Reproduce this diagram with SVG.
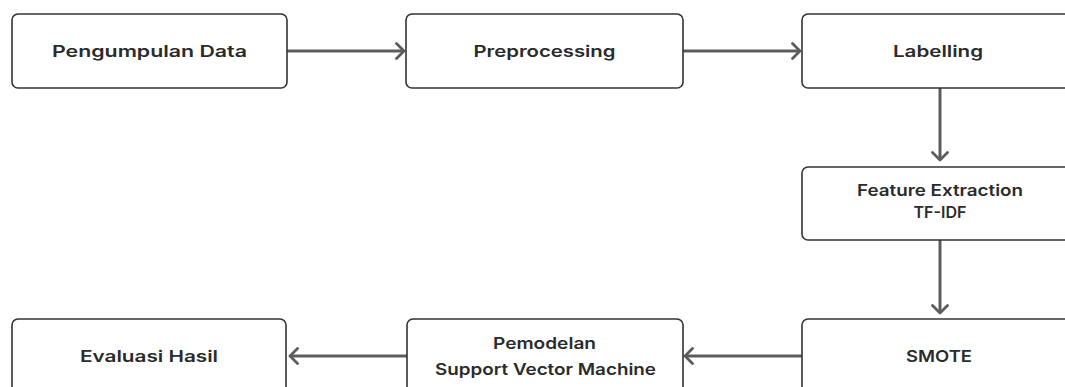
<svg xmlns="http://www.w3.org/2000/svg" width="1065" height="387" viewBox="0 0 1065 387">
  <defs>
    <style>
      .box { fill: #ffffff; stroke: #333333; stroke-width: 1.6; }
      .lbl { font-family: "Inter", "Liberation Sans", sans-serif; font-size: 16px; font-weight: 600; fill: #2b2b2b; text-anchor: middle; }
      .conn { stroke: #5c5c5c; stroke-width: 3; fill: none; }
    </style>
    <marker id="arr" viewBox="0 0 12 18" refX="10" refY="9" markerWidth="12" markerHeight="18" markerUnits="userSpaceOnUse" orient="auto">
      <path d="M2.5,1.5 L10,9 L2.5,16.5" fill="none" stroke="#5c5c5c" stroke-width="2.8" stroke-linecap="round" stroke-linejoin="round"/>
    </marker>
  </defs>
  <rect width="1065" height="387" fill="#ffffff"/>

  <g id="connectors">
    <line class="conn" x1="287" y1="51" x2="404" y2="51" marker-end="url(#arr)"/>
    <line class="conn" x1="683" y1="51" x2="800" y2="51" marker-end="url(#arr)"/>
    <line class="conn" x1="940" y1="88" x2="940" y2="160" marker-end="url(#arr)"/>
    <line class="conn" x1="940" y1="240" x2="940" y2="313" marker-end="url(#arr)"/>
    <line class="conn" x1="802" y1="356" x2="685" y2="356" marker-end="url(#arr)"/>
    <line class="conn" x1="407" y1="356" x2="290" y2="356" marker-end="url(#arr)"/>
  </g>

  <g id="node-pengumpulan">
    <rect class="box" x="12" y="14" width="275" height="74" rx="6"/>
    <text class="lbl" x="149.5" y="57" textLength="195" lengthAdjust="spacingAndGlyphs">Pengumpulan Data</text>
  </g>
  <g id="node-preprocessing">
    <rect class="box" x="406" y="14" width="277" height="74" rx="6"/>
    <text class="lbl" x="544.5" y="57" textLength="142" lengthAdjust="spacingAndGlyphs">Preprocessing</text>
  </g>
  <g id="node-labelling">
    <rect class="box" x="802" y="14" width="280" height="74" rx="6"/>
    <text class="lbl" x="938" y="57" textLength="90" lengthAdjust="spacingAndGlyphs">Labelling</text>
  </g>
  <g id="node-feature">
    <rect class="box" x="802" y="167" width="280" height="73" rx="6"/>
    <text class="lbl" x="940" y="196" textLength="166" lengthAdjust="spacingAndGlyphs">Feature Extraction</text>
    <text class="lbl" x="940" y="218" textLength="53" lengthAdjust="spacingAndGlyphs">TF-IDF</text>
  </g>
  <g id="node-smote">
    <rect class="box" x="802" y="319" width="280" height="90" rx="6"/>
    <text class="lbl" x="939" y="362" textLength="66" lengthAdjust="spacingAndGlyphs">SMOTE</text>
  </g>
  <g id="node-pemodelan">
    <rect class="box" x="407" y="319" width="276" height="90" rx="6"/>
    <text class="lbl" x="544.5" y="349" textLength="103" lengthAdjust="spacingAndGlyphs">Pemodelan</text>
    <text class="lbl" x="545.5" y="375" textLength="221" lengthAdjust="spacingAndGlyphs">Support Vector Machine</text>
  </g>
  <g id="node-evaluasi">
    <rect class="box" x="12" y="319" width="274" height="90" rx="6"/>
    <text class="lbl" x="149" y="362" textLength="138" lengthAdjust="spacingAndGlyphs">Evaluasi Hasil</text>
  </g>
</svg>
